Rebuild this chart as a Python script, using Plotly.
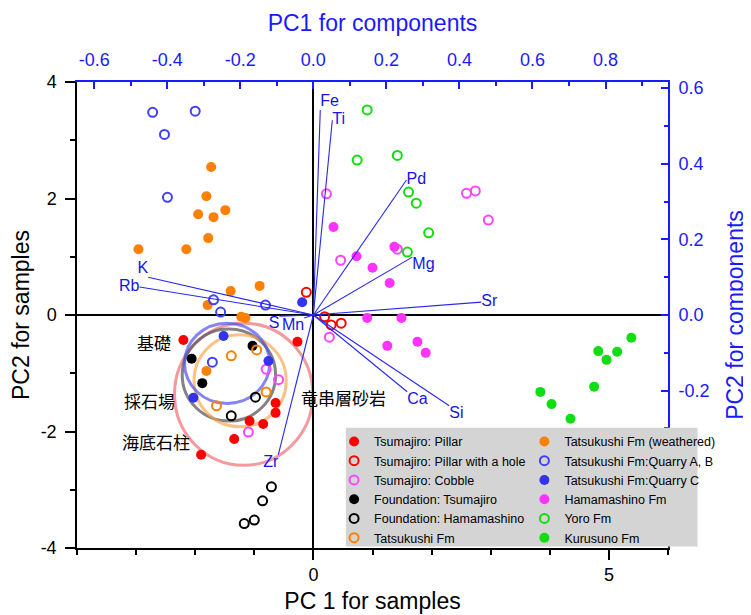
import plotly.graph_objects as go

# ---------------- sample scores (PC1, PC2 for samples) ----------------
pillar_x = [-2.20, -0.27, -0.64, -0.64, -1.08, -0.85, -1.34, -1.90]
pillar_y = [-0.43, -0.46, -1.51, -1.68, -1.82, -1.87, -2.13, -2.40]

hole_x = [-0.12, 0.19, 0.30, 0.47]
hole_y = [0.39, -0.03, -0.17, -0.14]

cobble_x = [-0.80, -0.59, -1.10, 0.27, 0.22, 0.46, 1.42, 2.59, 2.74, 2.96]
cobble_y = [-0.93, -1.11, -2.01, -0.38, 2.08, 0.94, 1.13, 2.09, 2.13, 1.63]

found_t_x = [-1.03, -2.06, -1.88]
found_t_y = [-0.53, -0.75, -1.17]

found_h_x = [-0.98, -1.39, -0.71, -0.86, -1.00, -1.17]
found_h_y = [-1.41, -1.73, -2.95, -3.19, -3.52, -3.58]

tatsu_x = [-0.96, -1.39, -0.80, -1.64]
tatsu_y = [-0.60, -0.70, -1.32, -1.56]

weath_x = [-1.73, -1.81, -1.95, -1.69, -1.49, -1.78, -2.96, -2.15, -0.91, -1.40, -1.79, -1.22, -1.15, -1.81]
weath_y = [2.54, 2.04, 1.73, 1.68, 1.80, 1.32, 1.13, 1.13, 0.50, 0.41, 0.17, -0.03, -0.05, -0.96]

qab_x = [-2.72, -2.00, -2.52, -2.47, -1.69, -0.81, -1.57, -1.71]
qab_y = [3.48, 3.50, 3.10, 2.02, 0.26, 0.17, 0.05, -0.81]

qc_x = [-0.19, -1.52, -0.76, -2.03]
qc_y = [0.22, -0.36, -0.79, -1.42]

hama_x = [0.34, 0.73, 1.37, 1.00, 1.29, 0.91, 1.49, 1.25, 1.76, 1.90]
hama_y = [1.51, 1.01, 1.17, 0.81, 0.55, -0.05, -0.05, -0.53, -0.46, -0.65]

yoro_x = [0.91, 0.74, 1.42, 1.61, 1.74, 1.95, 1.59]
yoro_y = [3.52, 2.66, 2.74, 2.11, 1.92, 1.41, 1.08]

kuru_x = [5.38, 4.82, 5.14, 4.96, 4.75, 3.84, 4.03, 4.35]
kuru_y = [-0.39, -0.62, -0.63, -0.77, -1.23, -1.32, -1.53, -1.78]

# ---------------- loadings (PC1, PC2 for components) ----------------
elements = ["Fe", "Ti", "Pd", "Mg", "Sr", "Ca", "Si", "Zr", "K", "Rb", "S", "Mn"]
load_x = [0.019, 0.052, 0.255, 0.271, 0.460, 0.257, 0.372, -0.096, -0.452, -0.476, -0.093, -0.025]
load_y = [0.542, 0.515, 0.357, 0.153, 0.034, -0.203, -0.240, -0.370, 0.100, 0.074, -0.003, -0.008]
label_pos = ["top right", "middle right", "middle right", "bottom right", "middle right",
             "bottom right", "bottom right", "bottom left", "top left", "middle left",
             "bottom left", "bottom left"]

# ---------------- group circles (sample units) ----------------
ell_cx = [-1.18, -1.43, -1.24, -1.46]
ell_cy = [-1.36, -1.03, -1.13, -0.83]
ell_rx = [1.17, 0.79, 0.78, 0.72]
ell_ry = [1.22, 0.79, 0.79, 0.69]
ell_col = ["rgba(240,110,115,0.7)", "rgba(90,90,90,0.75)", "rgba(250,160,70,0.65)", "rgba(80,80,240,0.7)"]

# ---------------- area labels ----------------
area_text = ["基礎", "採石場", "海底石柱", "竜串層砂岩"]
area_x = [-2.69, -2.77, -2.66, 0.51]
area_y = [-0.48, -1.46, -2.18, -1.42]

# ---------------- tick labels ----------------
xs_ticks = [0, 5]
xs_text = ["0", "5"]
ys_ticks = [-4, -2, 0, 2, 4]
ys_text = ["-4", "-2", "0", "2", "4"]
xc_ticks = [-0.6, -0.4, -0.2, 0.0, 0.2, 0.4, 0.6, 0.8]
xc_text = ["-0.6", "-0.4", "-0.2", "0.0", "0.2", "0.4", "0.6", "0.8"]
yc_ticks = [-0.2, 0.0, 0.2, 0.4, 0.6]
yc_text = ["-0.2", "0.0", "0.2", "0.4", "0.6"]

FONT = "Arial, Liberation Sans, sans-serif"
BLUE = "#1a1aff"

fig = go.Figure()

# circles
for cx, cy, rx, ry, col in zip(ell_cx, ell_cy, ell_rx, ell_ry, ell_col):
    fig.add_shape(type="circle", xref="x", yref="y",
                  x0=cx - rx, x1=cx + rx, y0=cy - ry, y1=cy + ry,
                  line=dict(color=col, width=3), layer="below")

# loadings vectors
vx, vy = [], []
for a, b in zip(load_x, load_y):
    vx += [0, a, None]
    vy += [0, b, None]
fig.add_trace(go.Scatter(x=vx, y=vy, xaxis="x2", yaxis="y2", mode="lines",
                         line=dict(color="rgb(40,40,235)", width=1.1),
                         showlegend=False, hoverinfo="skip"))
fig.add_trace(go.Scatter(x=load_x, y=load_y, xaxis="x2", yaxis="y2", mode="text",
                         text=elements, textposition=label_pos,
                         textfont=dict(family=FONT, size=16, color="rgb(20,20,230)"),
                         showlegend=False, hoverinfo="skip"))

def add_group(name, xs, ys, color, filled, legend):
    if filled:
        marker = dict(symbol="circle", size=10, color=color, line=dict(width=0))
    else:
        marker = dict(symbol="circle-open", size=9, color=color, line=dict(width=2, color=color))
    fig.add_trace(go.Scatter(x=xs, y=ys, mode="markers", name=name, marker=marker, legend=legend))

add_group("Tsumajiro: Pillar", pillar_x, pillar_y, "#ff0000", True, "legend")
add_group("Tsumajiro: Pillar with a hole", hole_x, hole_y, "#ff0000", False, "legend")
add_group("Tsumajiro: Cobble", cobble_x, cobble_y, "#ff44ff", False, "legend")
add_group("Foundation: Tsumajiro", found_t_x, found_t_y, "#000000", True, "legend")
add_group("Foundation: Hamamashino", found_h_x, found_h_y, "#000000", False, "legend")
add_group("Tatsukushi Fm", tatsu_x, tatsu_y, "#ff8000", False, "legend")
add_group("Tatsukushi Fm (weathered)", weath_x, weath_y, "#ff8000", True, "legend2")
add_group("Tatsukushi Fm:Quarry A, B", qab_x, qab_y, "#4040ff", False, "legend2")
add_group("Tatsukushi Fm:Quarry C", qc_x, qc_y, "#3333ee", True, "legend2")
add_group("Hamamashino Fm", hama_x, hama_y, "#ff33ff", True, "legend2")
add_group("Yoro Fm", yoro_x, yoro_y, "#11dd11", False, "legend2")
add_group("Kurusuno Fm", kuru_x, kuru_y, "#11dd11", True, "legend2")

# area labels
for t, x, y in zip(area_text, area_x, area_y):
    fig.add_annotation(x=x, y=y, xref="x", yref="y", text=t, showarrow=False,
                       font=dict(family="Noto Sans CJK JP", size=17, color="black"))

# legend background box
fig.add_shape(type="rect", xref="paper", yref="paper", x0=0.455, x1=1.05, y0=0.003, y1=0.258,
              fillcolor="#d4d4d4", line=dict(width=0), layer="above")

fig.update_layout(
    width=743, height=607,
    margin=dict(l=69, r=83, t=74, b=67, autoexpand=False),
    paper_bgcolor="white", plot_bgcolor="white",
    font=dict(family=FONT, size=18, color="black"),
    xaxis=dict(range=[-4, 6], tickvals=xs_ticks, ticktext=xs_text, ticks="outside",
               ticklen=10, tickwidth=1.5, tickcolor="black", automargin=False,
               minor=dict(tickmode="linear", tick0=0, dtick=1, ticks="outside", ticklen=5, tickcolor="black"),
               showline=True, linecolor="black", linewidth=1.5, showgrid=False,
               zeroline=True, zerolinecolor="black", zerolinewidth=1.5,
               title=dict(text="PC 1 for samples", font=dict(size=23), standoff=9),
               tickfont=dict(size=18)),
    yaxis=dict(range=[-4, 4], tickvals=ys_ticks, ticktext=ys_text, ticks="outside",
               ticklen=10, tickwidth=1.5, tickcolor="black", automargin=False,
               ticklabelstandoff=5,
               minor=dict(tickmode="linear", tick0=0, dtick=1, ticks="outside", ticklen=5, tickcolor="black"),
               showline=True, linecolor="black", linewidth=1.5, showgrid=False,
               zeroline=True, zerolinecolor="black", zerolinewidth=1.5,
               title=dict(text="PC2 for samples", font=dict(size=23), standoff=6),
               tickfont=dict(size=18)),
    xaxis2=dict(overlaying="x", side="top", anchor="y", range=[-0.647, 0.971],
                tickvals=xc_ticks, ticktext=xc_text, ticks="inside", ticklen=7,
                tickwidth=1.5, tickcolor=BLUE, automargin=False, ticklabelstandoff=7,
                minor=dict(tickmode="linear", tick0=0, dtick=0.1, ticks="inside", ticklen=4, tickcolor=BLUE),
                showline=True, linecolor=BLUE, linewidth=2, showgrid=False, zeroline=False,
                tickfont=dict(size=18, color=BLUE),
                title=dict(text="PC1 for components", font=dict(size=23, color=BLUE), standoff=12)),
    yaxis2=dict(overlaying="y", side="right", anchor="x", range=[-0.616, 0.616],
                tickvals=yc_ticks, ticktext=yc_text, ticks="inside", ticklen=7,
                tickwidth=1.5, tickcolor=BLUE, automargin=False, ticklabelstandoff=5,
                minor=dict(tickmode="linear", tick0=0, dtick=0.1, ticks="inside", ticklen=4, tickcolor=BLUE),
                showline=True, linecolor=BLUE, linewidth=2, showgrid=False, zeroline=False,
                tickfont=dict(size=18, color=BLUE),
                title=dict(text="PC2 for components", font=dict(size=23, color=BLUE), standoff=18)),
    legend=dict(x=0.435, y=0.26, xanchor="left", yanchor="top", bgcolor="rgba(0,0,0,0)",
                font=dict(family=FONT, size=12.5, color="black"), traceorder="normal"),
    legend2=dict(x=0.757, y=0.26, xanchor="left", yanchor="top", bgcolor="rgba(0,0,0,0)",
                 font=dict(family=FONT, size=12.5, color="black"), traceorder="normal"),
)

fig.write_html("out.html")
